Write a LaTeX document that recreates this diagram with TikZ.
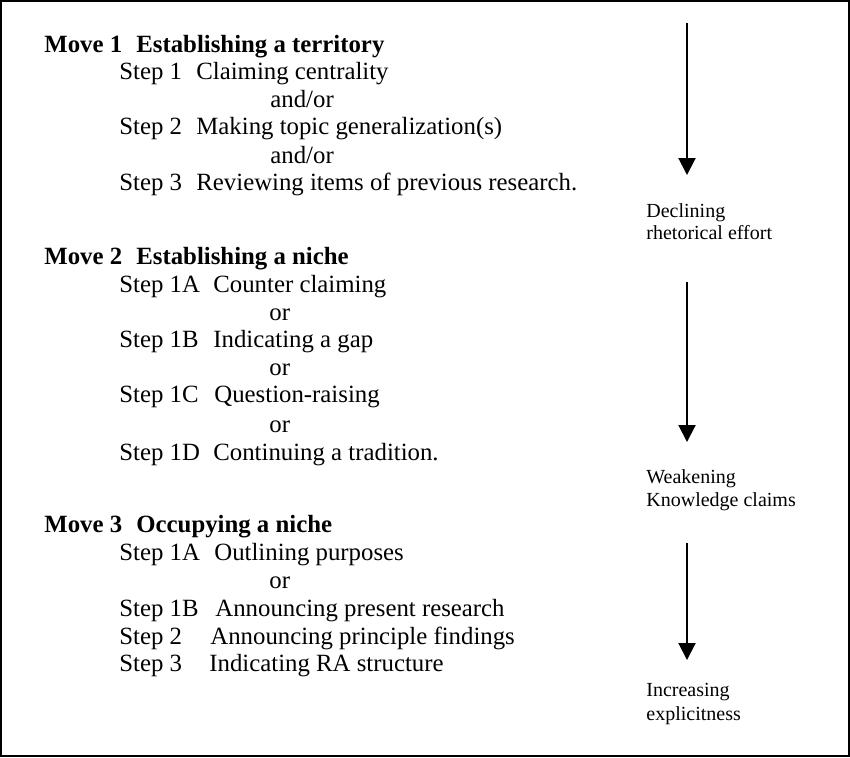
\documentclass[tikz,border=0pt]{standalone}
\usepackage{fontspec}
\setmainfont{Liberation Serif}
\usetikzlibrary{arrows.meta}

\begin{document}
\begin{tikzpicture}[x=0.5pt,y=-0.5pt,
  every node/.style={inner sep=0pt,anchor=base west,font=\fontsize{12.4}{14}\selectfont},
  move/.style={font=\fontsize{12.4}{14}\selectfont\bfseries},
  note/.style={font=\fontsize{10}{12}\selectfont},
  trend/.style={draw,line width=1pt,-{Triangle[width=8.5pt,length=8.5pt]}}]
\useasboundingbox (0,0) rectangle (850,757);
\draw[line width=1pt] (1,1) rectangle (849,756);

% Move 1
\node[move] (m1) at (44,52) {Move 1};
\node[move] (m1t) at (136,52) {Establishing a territory};
\node (s11) at (119,79) {Step 1};
\node (s11t) at (196,79) {Claiming centrality};
\node (o11) at (270,107) {and/or};
\node (s12) at (119,134) {Step 2};
\node (s12t) at (196,134) {Making topic generalization(s)};
\node (o12) at (270,163) {and/or};
\node (s13) at (119,190) {Step 3};
\node (s13t) at (196,190) {Reviewing items of previous research.};

% Move 2
\node[move] (m2) at (44,264) {Move 2};
\node[move] (m2t) at (136,264) {Establishing a niche};
\node (s21) at (119,292) {Step 1A};
\node (s21t) at (213,292) {Counter claiming};
\node (o21) at (269,320) {or};
\node (s22) at (119,347) {Step 1B};
\node (s22t) at (213,347) {Indicating a gap};
\node (o22) at (269,375) {or};
\node (s23) at (119,402) {Step 1C};
\node (s23t) at (214,402) {Question-raising};
\node (o23) at (269,432) {or};
\node (s24) at (119,460) {Step 1D};
\node (s24t) at (213,460) {Continuing a tradition.};

% Move 3
\node[move] (m3) at (44,532) {Move 3};
\node[move] (m3t) at (136,532) {Occupying a niche};
\node (s31) at (119,560) {Step 1A};
\node (s31t) at (214,560) {Outlining purposes};
\node (o31) at (269,588) {or};
\node (s32) at (119,616) {Step 1B};
\node (s32t) at (215,616) {Announcing present research};
\node (s33) at (119,644) {Step 2};
\node (s33t) at (210,644) {Announcing principle findings};
\node (s34) at (119,671) {Step 3};
\node (s34t) at (209,671) {Indicating RA structure};

% trends on the right
\coordinate (a1) at (687,23);
\coordinate (b1) at (687,175);
\coordinate (a2) at (687,282);
\coordinate (b2) at (687,442);
\coordinate (a3) at (687,543);
\coordinate (b3) at (687,660);
\path[trend] (a1) -- (b1);
\path[trend] (a2) -- (b2);
\path[trend] (a3) -- (b3);

\node[note] (d1) at (646,217) {Declining};
\node[note] (d2) at (646,239) {rhetorical effort};
\node[note] (w1) at (646,483) {Weakening};
\node[note] (w2) at (646,506) {Knowledge claims};
\node[note] (i1) at (646,696) {Increasing};
\node[note] (i2) at (646,720) {explicitness};
\end{tikzpicture}
\end{document}
